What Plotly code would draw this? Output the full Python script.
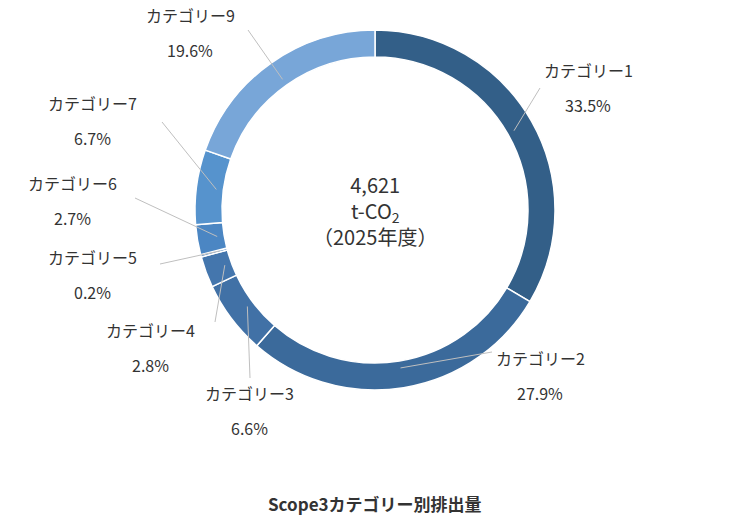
import math
import plotly.graph_objects as go

categories = ["カテゴリー1", "カテゴリー2", "カテゴリー3", "カテゴリー4",
              "カテゴリー5", "カテゴリー6", "カテゴリー7", "カテゴリー9"]
shares = [33.5, 27.9, 6.6, 2.8, 0.2, 2.7, 6.7, 19.6]
colors = ["#335f88", "#3b6a9b", "#4171a6", "#4476ad", "#4a7fba",
          "#4b86c3", "#5693cd", "#78a6d8"]
total_label = "4,621"

W, H = 732, 525
OFF = 8  # page body margin
cx, cy, r_out = 375, 210, 180

# label anchor positions (pixels, top-left origin) and leader start points
label_pos = [(588, 70), (540, 358), (250, 393), (150, 330),
             (92, 257), (72, 183), (92, 103), (190, 15)]
leader_start = [(540, 88), (492, 352), (250, 378), (215, 322),
                (160, 264), (135, 198), (162, 122), (248, 30)]

def px(x, y):
    return (x - OFF) / W, 1 - (y - OFF) / H

fig = go.Figure(go.Pie(
    labels=categories, values=shares, hole=0.85, sort=False,
    direction="clockwise", rotation=0,
    marker=dict(colors=colors, line=dict(color="white", width=1.5)),
    textinfo="none", hoverinfo="label+percent", showlegend=False,
    domain=dict(x=[(cx - r_out - OFF) / W, (cx + r_out - OFF) / W],
                y=[1 - (cy + r_out - OFF) / H, 1 - (cy - r_out - OFF) / H]),
))

font = dict(family="Noto Sans CJK JP", size=16, color="#333333")
cum = 0.0
tot = sum(shares)
for name, v, (lx, ly), (sx, sy) in zip(categories, shares, label_pos, leader_start):
    mid = (cum + v / 2) / tot * 2 * math.pi
    cum += v
    ex = cx + 160 * math.sin(mid)
    ey = cy - 160 * math.cos(mid)
    x0, y0 = px(sx, sy)
    x1, y1 = px(ex, ey)
    fig.add_shape(type="line", xref="paper", yref="paper", x0=x0, y0=y0, x1=x1, y1=y1,
                  line=dict(color="#bfbfbf", width=1))
    ax, ay = px(lx, ly)
    fig.add_annotation(x=ax, y=ay, xref="paper", yref="paper", text=name,
                       xanchor="center", yanchor="middle", showarrow=False, font=font)
    ax, ay = px(lx, ly + 35)
    fig.add_annotation(x=ax, y=ay, xref="paper", yref="paper", text=f"{v}%",
                       xanchor="center", yanchor="middle", showarrow=False, font=font)

x, y = px(cx, cy)
fig.add_annotation(x=x, y=y, xref="paper", yref="paper", xanchor="center", yanchor="middle",
                   text=f"{total_label}<br>t-CO<sub>2</sub><br>（2025年度）",
                   showarrow=False, font=dict(family="Noto Sans CJK JP", size=20, color="#333333"))
x, y = px(375, 503)
fig.add_annotation(x=x, y=y, xref="paper", yref="paper", xanchor="center", yanchor="middle",
                   text="<b>Scope3カテゴリー別排出量</b>", showarrow=False,
                   font=dict(family="Noto Sans CJK JP", size=17, color="#333333"))

fig.update_layout(width=W, height=H, margin=dict(l=0, r=0, t=0, b=0),
                  paper_bgcolor="white", plot_bgcolor="white")
fig.write_html("out.html")
